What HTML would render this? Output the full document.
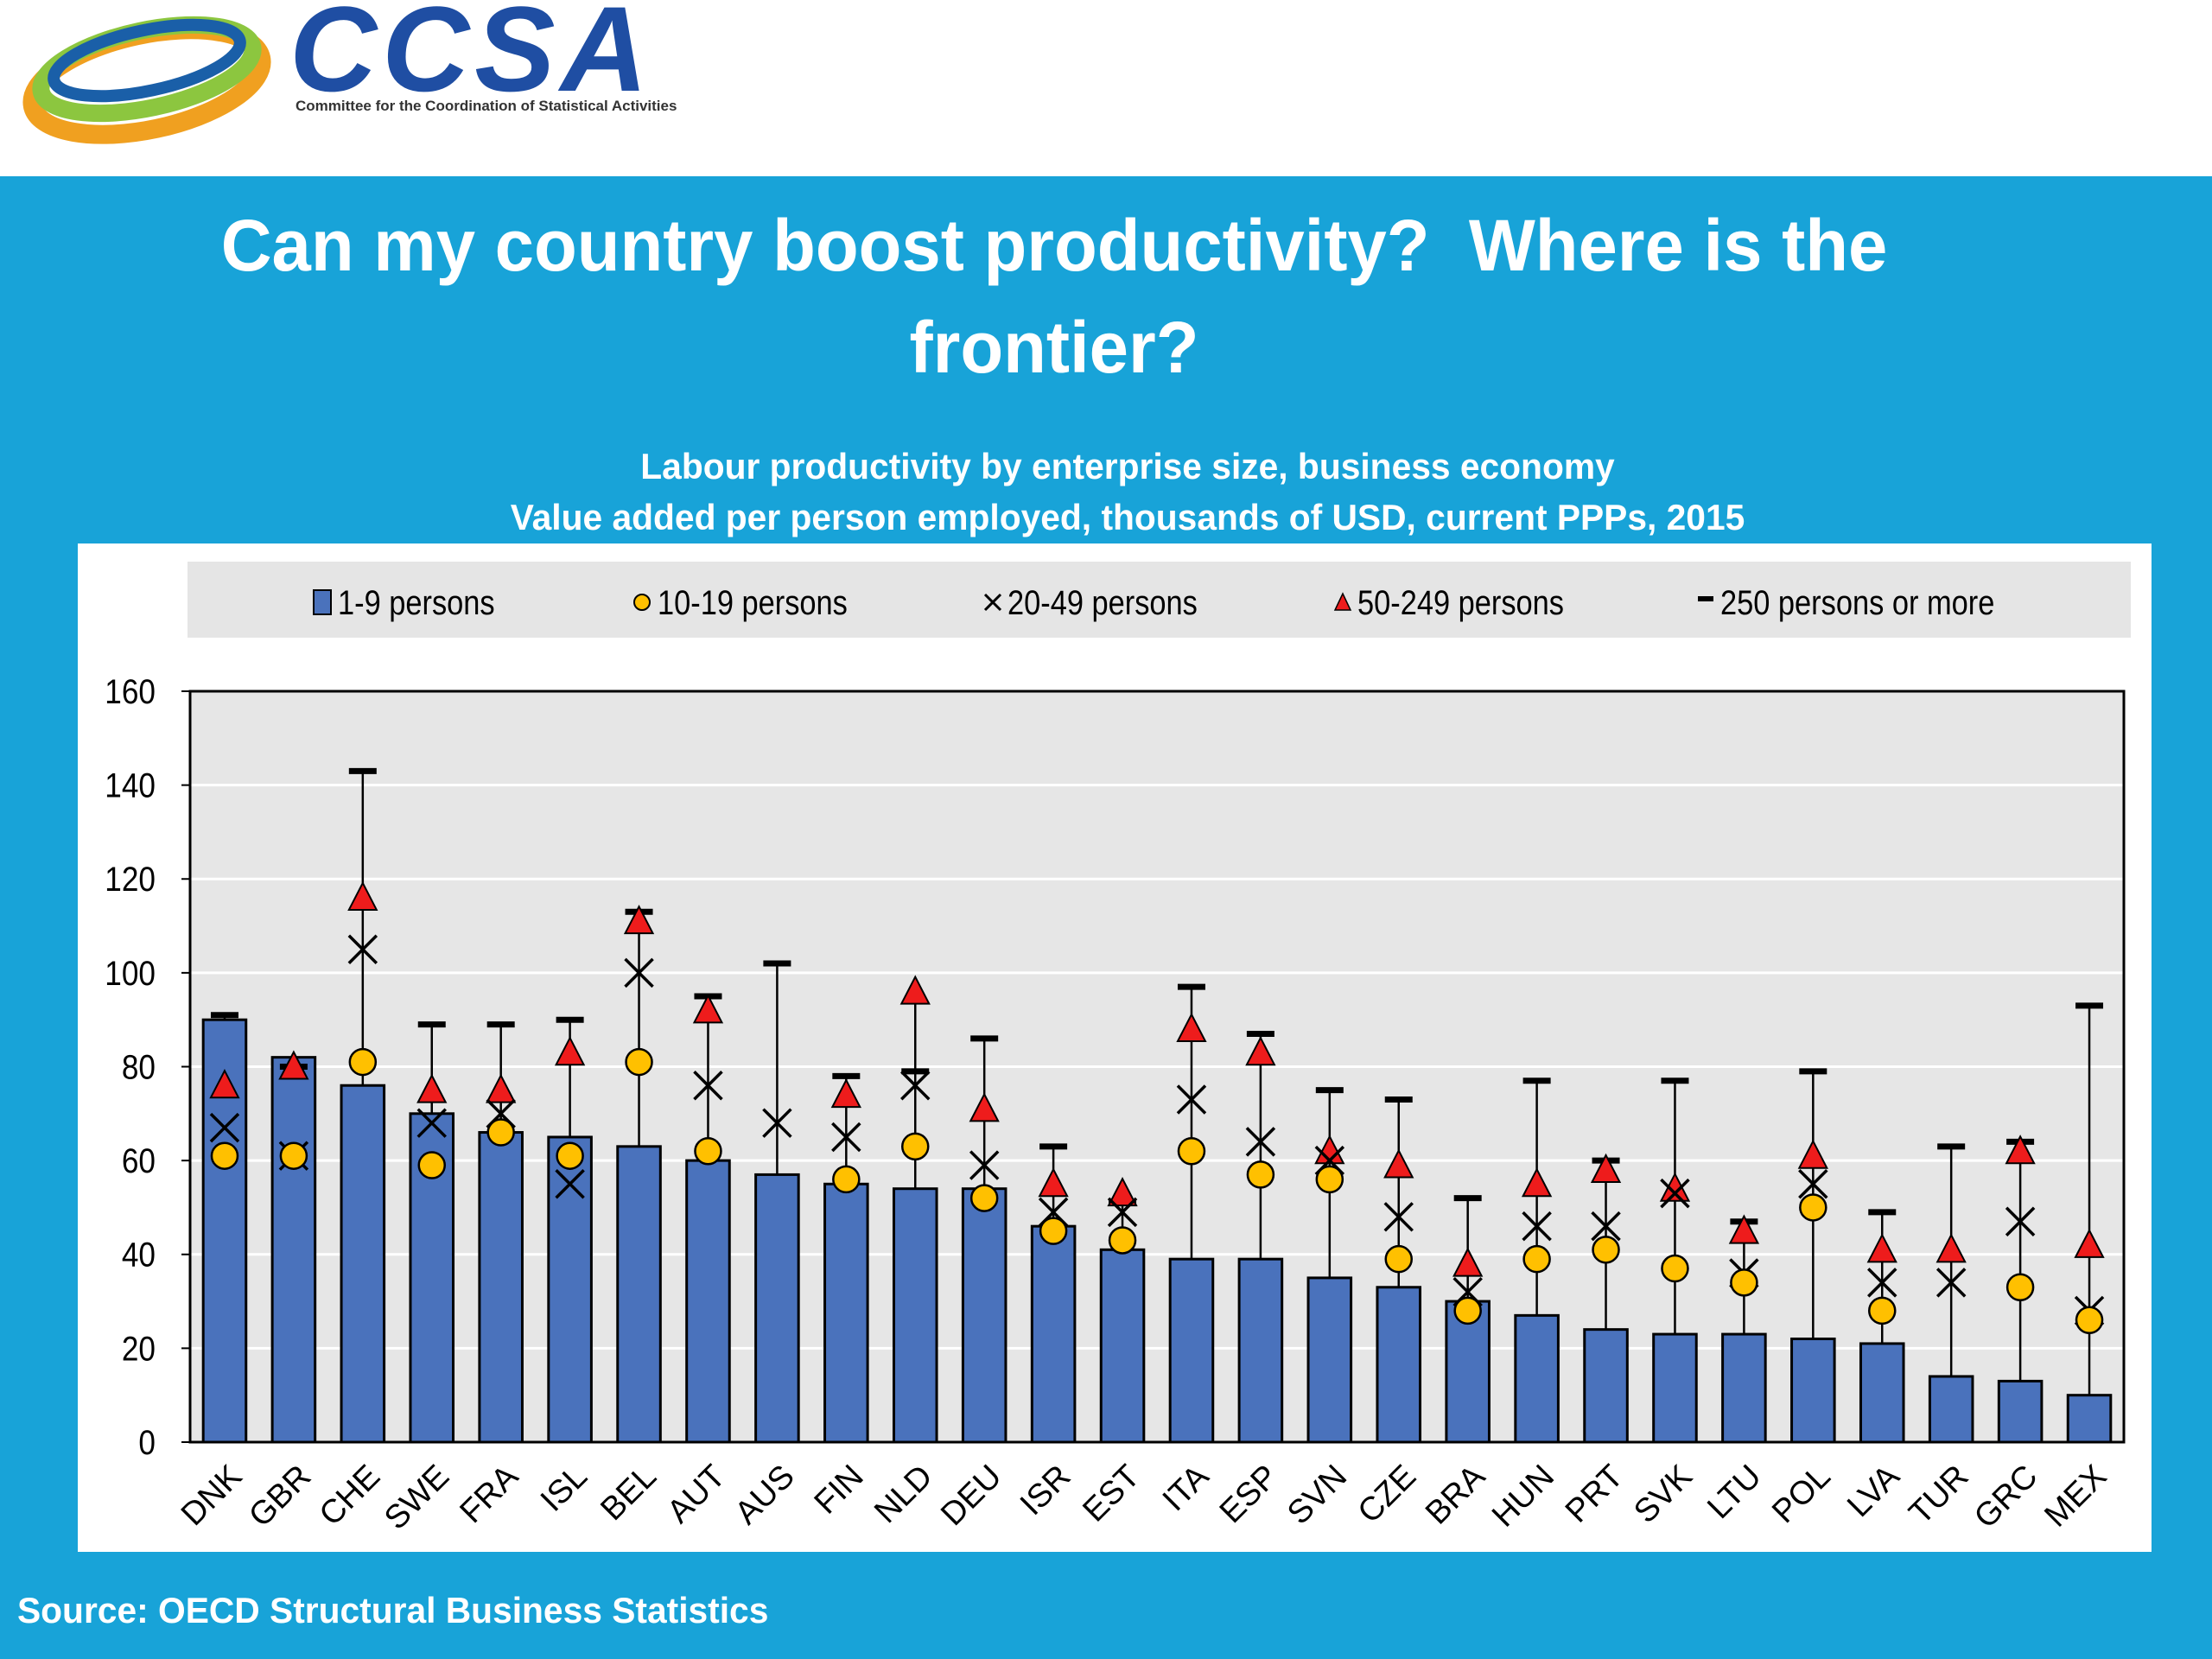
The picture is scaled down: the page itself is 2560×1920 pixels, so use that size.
<!DOCTYPE html>
<html><head><meta charset="utf-8">
<style>
html,body{margin:0;padding:0;}
body{width:2560px;height:1920px;background:#18a3d8;position:relative;overflow:hidden;font-family:"Liberation Sans",sans-serif;}
#hdr{position:absolute;left:0;top:0;width:2560px;height:204px;background:#fff;}
.t{position:absolute;left:0;width:2440px;text-align:center;color:#fff;font-weight:bold;}
</style></head>
<body>
<div id="hdr">
  <svg width="900" height="204">
    <ellipse cx="170" cy="95" rx="135" ry="55" fill="none" stroke="#f0a020" stroke-width="22" transform="rotate(-12 170 95)"/>
    <ellipse cx="170" cy="80" rx="125" ry="45" fill="none" stroke="#8cc63f" stroke-width="20" transform="rotate(-12 170 80)"/>
    <ellipse cx="170" cy="70" rx="110" ry="35" fill="none" stroke="#1a5fa8" stroke-width="14" transform="rotate(-12 170 70)"/>
    <text x="335" y="105" font-size="140" font-weight="bold" font-style="italic" fill="#1f4ea3" letter-spacing="6">CCSA</text>
    <text x="342" y="128" font-size="17" font-weight="bold" fill="#333">Committee for the Coordination of Statistical Activities</text>
  </svg>
</div>
<div class="t" style="top:225px;font-size:84px;line-height:118px;transform:scaleX(0.97);">Can my country boost productivity?&nbsp; Where is the<br>frontier?</div>
<div class="t" style="top:510px;font-size:42px;line-height:59px;left:85px;transform:scaleX(0.97);">Labour productivity by enterprise size, business economy<br>Value added per person employed, thousands of USD, current PPPs, 2015</div>
<div style="position:absolute;left:20px;top:1840px;color:#fff;font-weight:bold;font-size:42px;transform:scaleX(0.97);transform-origin:left;">Source: OECD Structural Business Statistics</div>

<svg id="chart" width="2560" height="1920" style="position:absolute;left:0;top:0;"></svg>
<script>
const categories=["DNK","GBR","CHE","SWE","FRA","ISL","BEL","AUT","AUS","FIN","NLD","DEU","ISR","EST","ITA","ESP","SVN","CZE","BRA","HUN","PRT","SVK","LTU","POL","LVA","TUR","GRC","MEX"];
const s1_9=[90,82,76,70,66,65,63,60,57,55,54,54,46,41,39,39,35,33,30,27,24,23,23,22,21,14,13,10];
const s10_19=[61,61,81,59,66,61,81,62,null,56,63,52,45,43,62,57,56,39,28,39,41,37,34,50,28,null,33,26];
const s20_49=[67,61,105,68,70,55,100,76,68,65,76,59,49,49,73,64,60,48,32,46,46,53,36,55,34,34,47,28];
const s50_249=[76,80,116,75,75,83,111,92,null,74,96,71,55,53,88,83,62,59,38,55,58,54,45,61,41,41,62,42];
const s250=[91,80,143,89,89,90,113,95,102,78,79,86,63,51,97,87,75,73,52,77,60,77,47,79,49,63,64,93];
const yTicks=[0,20,40,60,80,100,120,140,160];
const legendLabels=["1-9 persons","10-19 persons","20-49 persons","50-249 persons","250 persons or more"];

const NS="http://www.w3.org/2000/svg";
const svg=document.getElementById('chart');
function mk(tag,attrs,parent){const e=document.createElementNS(NS,tag);for(const k in attrs)e.setAttribute(k,attrs[k]);(parent||svg).appendChild(e);return e;}
const PL=220,PR=2458,PT=800,PB=1669;
const y=v=>PB-(v/160)*(PB-PT);
const step=(PR-PL)/categories.length;
const x=i=>PL+step*(i+0.5);

let box=mk('rect',{x:90,y:629,width:2400,height:1167,fill:'#fff'});


let lg=mk('rect',{x:217,y:650,width:2249,height:88,fill:'#e5e5e5'});


let pa=mk('rect',{x:PL,y:PT,width:PR-PL,height:PB-PT,fill:'#e6e6e6'});



yTicks.forEach(t=>{
  if(t>0&&t<160){let g=mk('line',{x1:PL,x2:PR,y1:y(t),y2:y(t),stroke:'#fff','stroke-width':3});
  
  }
  let tx=mk('text',{x:180,y:y(t)+14,'font-size':40,'text-anchor':'end',fill:'#000',transform:`translate(180 0) scale(0.88 1) translate(-180 0)`});
  tx.textContent=t;
  
  
  let tk=mk('line',{x1:PL-10,x2:PL,y1:y(t),y2:y(t),stroke:'#000','stroke-width':2});
  
  
});
let fr=mk('rect',{x:PL,y:PT,width:PR-PL,height:PB-PT,fill:'none',stroke:'#000','stroke-width':3});



const bw=step*0.62;
categories.forEach((c,i)=>{
  const cx=x(i);
  let b=mk('rect',{x:cx-bw/2,y:y(s1_9[i]),width:bw,height:PB-y(s1_9[i]),fill:'#4a72bc',stroke:'#000','stroke-width':3});
  
  
  const vals=[s1_9[i],s10_19[i],s20_49[i],s50_249[i],s250[i]].filter(v=>v!=null);
  const hi=Math.max(...vals);
  let ln=mk('line',{x1:cx,x2:cx,y1:y(s1_9[i]),y2:y(hi),stroke:'#000','stroke-width':2.5});
  
  
  let cap=mk('line',{x1:cx-16,x2:cx+16,y1:y(s250[i]),y2:y(s250[i]),stroke:'#000','stroke-width':7});
  
  
  if(s50_249[i]!=null){const yy=y(s50_249[i]);
    let tr=mk('polygon',{points:`${cx-16},${yy+14} ${cx+16},${yy+14} ${cx},${yy-17}`,fill:'#ee1c1c',stroke:'#000','stroke-width':2});
    
    }
  if(s20_49[i]!=null){const yy=y(s20_49[i]);
    let g=mk('path',{d:`M${cx-16} ${yy-16}L${cx+16} ${yy+16}M${cx+16} ${yy-16}L${cx-16} ${yy+16}`,stroke:'#000','stroke-width':3.5,fill:'none'});
    
    }
  if(s10_19[i]!=null){
    let ci=mk('circle',{cx:cx,cy:y(s10_19[i]),r:15,fill:'#ffc000',stroke:'#000','stroke-width':2.5});
    
    }
  let lb=mk('text',{x:cx+22,y:PB+42,'font-size':38,'text-anchor':'end',transform:`rotate(-45 ${cx+22} ${PB+42})`});
  lb.textContent=c;
  
  
});

const lx=[365,735,1140,1545,1965];
legendLabels.forEach((l,k)=>{
  const cy=697,sx=lx[k];
  let ic;
  if(k===0)ic=mk('rect',{x:sx-2,y:cy-14,width:20,height:28,fill:'#4a72bc',stroke:'#000','stroke-width':2});
  if(k===1)ic=mk('circle',{cx:sx+8,cy:cy,r:9,fill:'#ffc000',stroke:'#000','stroke-width':2});
  if(k===2)ic=mk('path',{d:`M${sx} ${cy-9}L${sx+18} ${cy+9}M${sx+18} ${cy-9}L${sx} ${cy+9}`,stroke:'#000','stroke-width':3});
  if(k===3)ic=mk('polygon',{points:`${sx},${cy+9} ${sx+18},${cy+9} ${sx+9},${cy-10}`,fill:'#ee1c1c',stroke:'#000','stroke-width':1.5});
  if(k===4)ic=mk('line',{x1:sx,x2:sx+18,y1:cy-4,y2:cy-4,stroke:'#000','stroke-width':6});
  
  
  let t=mk('text',{x:sx+26,y:cy+14,'font-size':40,transform:`translate(${sx+26} 0) scale(0.86 1) translate(${-(sx+26)} 0)`});
  t.textContent=l;
  
  
});
</script>
</body></html>
